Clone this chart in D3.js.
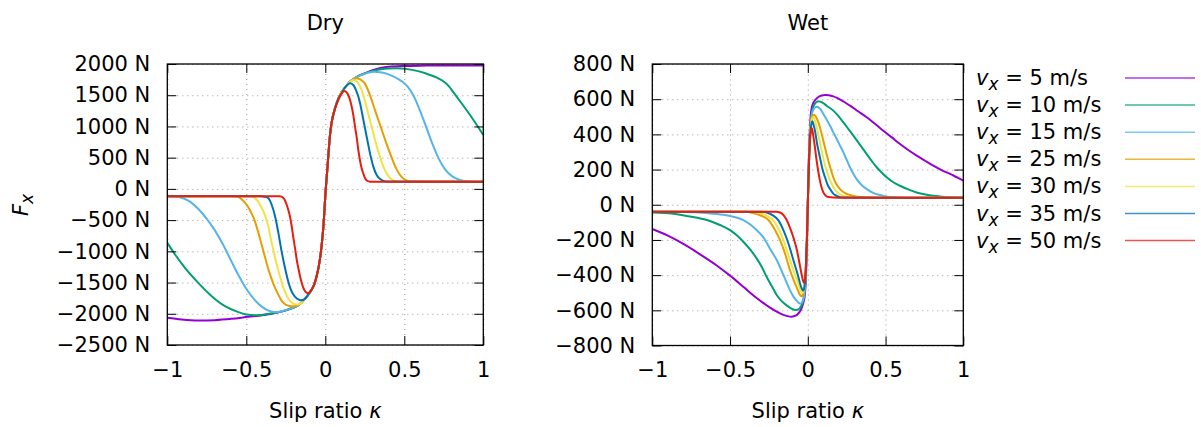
<!DOCTYPE html>
<html><head><meta charset="utf-8">
<script src="https://cdn.jsdelivr.net/npm/d3@7"></script>
<style>
html,body{margin:0;padding:0;background:#fff;}
svg{display:block;font-family:"DejaVu Sans",sans-serif;}
</style></head>
<body><svg id="chart" width="1201" height="427"></svg>
<script>
// ---------------- data ----------------
const speeds = [5, 10, 15, 25, 30, 35, 50];
const seriesColors = ["#9400d3", "#009e73", "#56b4e9", "#e69f00", "#f0e442", "#0072b2", "#e51e10"];
const xTicks = [-1, -0.5, 0, 0.5, 1];
const yTicksDry = [-2500, -2000, -1500, -1000, -500, 0, 500, 1000, 1500, 2000];
const yTicksWet = [-800, -600, -400, -200, 0, 200, 400, 600, 800];
const panelTitles = ["Dry", "Wet"];

// Dry: [slip ratio, Fx]
const dry5 = [[-1,-2065],[-0.91,-2092],[-0.804,-2108],[-0.698,-2102],[-0.593,-2081],[-0.487,-2049],[-0.4,-2025],[-0.318,-1988],[-0.25,-1945],[-0.2,-1900],[-0.175,-1870],[-0.15,-1820],[-0.125,-1750],[-0.1,-1665],[-0.086,-1612],[-0.07,-1530],[-0.055,-1398],[-0.04,-1220],[-0.025,-950],[-0.012,-600],[0.003,0],[0.01,220],[0.02,560],[0.03,870],[0.04,1060],[0.06,1280],[0.08,1430],[0.1,1535],[0.12,1610],[0.14,1670],[0.156,1715],[0.177,1755],[0.2,1795],[0.25,1850],[0.3,1900],[0.35,1935],[0.4,1955],[0.5,1968],[0.6,1973],[0.8,1976],[1,1976]];
const dry10 = [[-1,-864],[-0.951,-1051],[-0.888,-1265],[-0.804,-1505],[-0.719,-1718],[-0.635,-1878],[-0.55,-1974],[-0.5,-2010],[-0.445,-2023],[-0.4,-2018],[-0.318,-1985],[-0.25,-1945],[-0.2,-1900],[-0.175,-1870],[-0.15,-1820],[-0.125,-1750],[-0.1,-1665],[-0.086,-1612],[-0.07,-1530],[-0.055,-1398],[-0.04,-1220],[-0.025,-950],[-0.012,-600],[0.003,0],[0.01,220],[0.02,560],[0.03,870],[0.04,1060],[0.06,1280],[0.08,1430],[0.1,1535],[0.12,1610],[0.14,1670],[0.156,1715],[0.177,1755],[0.2,1795],[0.25,1850],[0.3,1890],[0.35,1915],[0.4,1928],[0.45,1930],[0.52,1918],[0.58,1890],[0.634,1851],[0.69,1800],[0.74,1735],[0.78,1650],[0.81,1550],[0.86,1380],[0.916,1183],[0.96,1020],[1,863]];
const dry15 = [[-1,-117],[-0.95,-122],[-0.9,-150],[-0.85,-215],[-0.8,-330],[-0.75,-480],[-0.7,-660],[-0.65,-880],[-0.6,-1130],[-0.55,-1380],[-0.5,-1600],[-0.45,-1770],[-0.4,-1890],[-0.36,-1950],[-0.318,-1974],[-0.28,-1962],[-0.25,-1942],[-0.2,-1898],[-0.175,-1870],[-0.15,-1820],[-0.125,-1750],[-0.1,-1665],[-0.086,-1612],[-0.07,-1530],[-0.055,-1398],[-0.04,-1220],[-0.025,-950],[-0.012,-600],[0.003,0],[0.01,220],[0.02,560],[0.03,870],[0.04,1060],[0.06,1280],[0.08,1430],[0.1,1535],[0.12,1610],[0.14,1670],[0.156,1715],[0.177,1755],[0.2,1792],[0.25,1845],[0.304,1877],[0.36,1865],[0.42,1815],[0.48,1730],[0.52,1640],[0.557,1500],[0.6,1250],[0.637,1000],[0.675,740],[0.715,500],[0.75,340],[0.78,250],[0.82,175],[0.87,130],[0.92,118],[1,116]];
const dry25 = [[-1,-117],[-0.574,-117],[-0.55,-128],[-0.532,-162],[-0.51,-215],[-0.49,-282],[-0.47,-375],[-0.448,-500],[-0.426,-680],[-0.404,-883],[-0.383,-1080],[-0.362,-1274],[-0.34,-1440],[-0.32,-1574],[-0.298,-1690],[-0.278,-1785],[-0.26,-1835],[-0.24,-1866],[-0.216,-1880],[-0.195,-1878],[-0.175,-1865],[-0.15,-1820],[-0.125,-1750],[-0.1,-1665],[-0.086,-1612],[-0.07,-1530],[-0.055,-1398],[-0.04,-1220],[-0.025,-950],[-0.012,-600],[0.003,0],[0.01,220],[0.02,560],[0.03,870],[0.04,1060],[0.06,1280],[0.08,1430],[0.1,1535],[0.12,1610],[0.14,1670],[0.156,1715],[0.177,1755],[0.198,1772],[0.22,1755],[0.25,1690],[0.283,1500],[0.316,1250],[0.35,1000],[0.385,740],[0.42,500],[0.45,320],[0.48,200],[0.51,140],[0.54,118],[1,116]];
const dry30 = [[-1,-117],[-0.478,-117],[-0.46,-126],[-0.443,-155],[-0.425,-205],[-0.408,-278],[-0.39,-370],[-0.373,-485],[-0.358,-630],[-0.345,-800],[-0.33,-965],[-0.315,-1130],[-0.3,-1280],[-0.285,-1420],[-0.27,-1545],[-0.255,-1650],[-0.24,-1730],[-0.225,-1790],[-0.21,-1825],[-0.195,-1845],[-0.175,-1852],[-0.155,-1830],[-0.14,-1790],[-0.125,-1750],[-0.1,-1665],[-0.086,-1612],[-0.07,-1530],[-0.055,-1398],[-0.04,-1220],[-0.025,-950],[-0.012,-600],[0.003,0],[0.01,220],[0.02,560],[0.03,870],[0.04,1060],[0.06,1280],[0.08,1430],[0.1,1535],[0.12,1610],[0.14,1670],[0.156,1712],[0.177,1744],[0.198,1725],[0.22,1640],[0.241,1500],[0.267,1250],[0.293,1000],[0.318,750],[0.345,520],[0.37,340],[0.395,220],[0.42,150],[0.45,120],[0.47,116],[1,116]];
const dry35 = [[-1,-117],[-0.405,-117],[-0.385,-125],[-0.36,-150],[-0.34,-250],[-0.318,-437],[-0.297,-704],[-0.278,-980],[-0.259,-1220],[-0.24,-1430],[-0.22,-1600],[-0.2,-1700],[-0.18,-1755],[-0.162,-1778],[-0.15,-1782],[-0.138,-1775],[-0.125,-1750],[-0.1,-1665],[-0.086,-1612],[-0.07,-1530],[-0.055,-1398],[-0.04,-1220],[-0.025,-950],[-0.012,-600],[0.003,0],[0.01,220],[0.02,560],[0.03,870],[0.04,1060],[0.06,1280],[0.08,1430],[0.104,1535],[0.12,1608],[0.14,1668],[0.156,1690],[0.177,1664],[0.198,1557],[0.209,1480],[0.22,1370],[0.241,1103],[0.262,836],[0.283,569],[0.304,356],[0.325,222],[0.357,142],[0.388,117],[1,116]];
const dry50 = [[-1,-117],[-0.29,-117],[-0.277,-125],[-0.266,-144],[-0.255,-185],[-0.245,-250],[-0.235,-330],[-0.224,-437],[-0.213,-590],[-0.202,-784],[-0.191,-960],[-0.181,-1131],[-0.17,-1275],[-0.16,-1398],[-0.15,-1500],[-0.139,-1585],[-0.128,-1640],[-0.118,-1664],[-0.108,-1668],[-0.097,-1650],[-0.086,-1612],[-0.07,-1530],[-0.055,-1398],[-0.04,-1220],[-0.025,-950],[-0.012,-600],[0.003,0],[0.01,220],[0.02,560],[0.03,870],[0.04,1060],[0.06,1270],[0.082,1423],[0.104,1530],[0.115,1560],[0.123,1568],[0.135,1545],[0.146,1500],[0.157,1420],[0.167,1317],[0.178,1170],[0.188,1000],[0.2,800],[0.209,623],[0.22,450],[0.23,329],[0.24,250],[0.251,175],[0.265,130],[0.283,116],[1,116]];

// Wet: [slip ratio, Fx]
const wet5 = [[-1,-138],[-0.9,-176],[-0.8,-223],[-0.693,-282],[-0.586,-345],[-0.5,-403],[-0.415,-466],[-0.329,-530],[-0.243,-585],[-0.2,-608],[-0.157,-626],[-0.13,-633],[-0.104,-636],[-0.088,-633],[-0.072,-627],[-0.055,-612],[-0.04,-589],[-0.028,-555],[-0.018,-504],[-0.012,-420],[-0.006,-240],[0,0],[0.006,240],[0.012,400],[0.018,500],[0.025,550],[0.035,578],[0.046,594],[0.07,614],[0.09,621],[0.111,624],[0.135,622],[0.164,616],[0.22,592],[0.271,563],[0.325,530],[0.379,497],[0.432,460],[0.486,421],[0.54,383],[0.593,345],[0.646,311],[0.7,279],[0.754,250],[0.807,222],[0.86,197],[0.915,175],[0.96,155],[1,137]];
const wet10 = [[-1,-44],[-0.865,-51],[-0.758,-67],[-0.69,-78],[-0.629,-92],[-0.565,-115],[-0.5,-144],[-0.455,-175],[-0.415,-210],[-0.37,-255],[-0.329,-305],[-0.295,-355],[-0.265,-409],[-0.232,-462],[-0.2,-513],[-0.168,-548],[-0.136,-572],[-0.105,-590],[-0.076,-598],[-0.06,-595],[-0.045,-580],[-0.032,-550],[-0.02,-490],[-0.012,-390],[-0.006,-220],[0,0],[0.006,220],[0.012,380],[0.02,480],[0.03,540],[0.045,575],[0.068,588],[0.095,580],[0.121,563],[0.164,535],[0.196,505],[0.229,468],[0.26,432],[0.293,393],[0.336,340],[0.379,288],[0.41,250],[0.443,213],[0.475,183],[0.507,156],[0.55,128],[0.593,108],[0.65,86],[0.7,70],[0.75,60],[0.807,51],[0.86,46],[0.915,42],[1,40]];
const wet15 = [[-1,-40],[-0.8,-41],[-0.651,-47],[-0.543,-57],[-0.48,-68],[-0.415,-87],[-0.37,-112],[-0.329,-144],[-0.3,-170],[-0.275,-200],[-0.24,-255],[-0.2,-314],[-0.157,-399],[-0.115,-485],[-0.09,-525],[-0.072,-545],[-0.055,-560],[-0.045,-562],[-0.035,-552],[-0.025,-525],[-0.015,-430],[-0.007,-250],[0,0],[0.007,250],[0.014,400],[0.022,490],[0.035,540],[0.057,557],[0.08,545],[0.1,516],[0.12,486],[0.143,449],[0.165,410],[0.186,374],[0.207,336],[0.229,298],[0.25,255],[0.271,213],[0.292,178],[0.314,146],[0.345,113],[0.379,89],[0.42,68],[0.464,55],[0.5,47],[0.55,42],[0.65,40],[1,40]];
const wet25 = [[-1,-40],[-0.4,-40],[-0.36,-45],[-0.32,-55],[-0.285,-68],[-0.253,-87],[-0.211,-144],[-0.179,-200],[-0.147,-276],[-0.115,-371],[-0.082,-447],[-0.062,-490],[-0.05,-512],[-0.04,-520],[-0.03,-505],[-0.02,-455],[-0.013,-370],[-0.006,-200],[0,0],[0.006,200],[0.012,360],[0.02,460],[0.03,505],[0.04,512],[0.052,500],[0.068,468],[0.084,420],[0.1,364],[0.116,305],[0.132,250],[0.148,200],[0.164,156],[0.185,115],[0.207,89],[0.24,66],[0.271,55],[0.31,47],[0.357,42],[0.45,40],[1,40]];
const wet30 = [[-1,-40],[-0.36,-40],[-0.32,-45],[-0.28,-56],[-0.25,-70],[-0.222,-87],[-0.19,-134],[-0.157,-200],[-0.125,-286],[-0.093,-371],[-0.061,-447],[-0.045,-490],[-0.035,-502],[-0.025,-485],[-0.018,-440],[-0.012,-350],[-0.006,-200],[0,0],[0.006,200],[0.012,350],[0.02,450],[0.028,490],[0.036,497],[0.045,480],[0.057,440],[0.073,375],[0.089,307],[0.105,245],[0.121,194],[0.138,150],[0.154,118],[0.175,85],[0.196,65],[0.22,53],[0.25,46],[0.3,41],[0.35,40],[1,40]];
const wet35 = [[-1,-40],[-0.3,-40],[-0.26,-45],[-0.225,-60],[-0.19,-87],[-0.157,-144],[-0.125,-219],[-0.093,-314],[-0.061,-409],[-0.045,-462],[-0.035,-483],[-0.029,-488],[-0.022,-470],[-0.015,-410],[-0.008,-260],[0,0],[0.006,200],[0.012,350],[0.02,440],[0.029,474],[0.037,455],[0.046,421],[0.06,345],[0.078,269],[0.095,200],[0.111,156],[0.127,115],[0.143,89],[0.165,62],[0.186,51],[0.23,41],[1,40]];
const wet50 = [[-1,-40],[-0.2,-40],[-0.18,-44],[-0.16,-55],[-0.14,-80],[-0.115,-130],[-0.093,-185],[-0.072,-250],[-0.054,-330],[-0.04,-395],[-0.032,-428],[-0.025,-443],[-0.019,-430],[-0.012,-340],[-0.006,-200],[0,0],[0.006,200],[0.012,340],[0.018,410],[0.025,436],[0.032,410],[0.04,364],[0.057,250],[0.078,137],[0.1,70],[0.115,52],[0.132,44],[0.2,40],[1,40]];

const drySeries = [dry5, dry10, dry15, dry25, dry30, dry35, dry50];
const wetSeries = [wet5, wet10, wet15, wet25, wet30, wet35, wet50];

// ---------------- drawing ----------------
const svg = d3.select("#chart");
const FS = 21;
const fmt = d3.format("");

function panel(cfg) {
  const x = d3.scaleLinear().domain([-1, 1]).range([cfg.x0, cfg.x1]);
  const y = d3.scaleLinear().domain(cfg.yDomain).range([cfg.y1, cfg.y0]);
  const g = svg.append("g");
  const w = cfg.x1 - cfg.x0, h = cfg.y1 - cfg.y0;

  const gx = g.append("g").attr("transform", `translate(0,${cfg.y1})`)
    .call(d3.axisBottom(x).tickValues(xTicks).tickSize(-h).tickFormat(""));
  const gy = g.append("g").attr("transform", `translate(${cfg.x0},0)`)
    .call(d3.axisLeft(y).tickValues(cfg.yTicks).tickSize(-w).tickFormat(""));
  [gx, gy].forEach(a => {
    a.select(".domain").remove();
    a.selectAll("line").attr("stroke", "#9a9a9a").attr("stroke-width", 1).attr("stroke-dasharray", "1,4");
  });

  const clipId = "clip" + cfg.id;
  svg.append("clipPath").attr("id", clipId).append("rect")
    .attr("x", cfg.x0).attr("y", cfg.y0).attr("width", w).attr("height", h);
  const line = d3.line().x(d => x(d[0])).y(d => y(d[1])).curve(d3.curveMonotoneX);
  g.append("g").attr("clip-path", `url(#${clipId})`)
    .selectAll("path").data(cfg.series).join("path")
    .attr("d", line).attr("fill", "none")
    .attr("stroke", (d, i) => seriesColors[i]).attr("stroke-width", 2)
    .attr("stroke-linejoin", "round");

  const TK = 9;
  const styleAxis = a => {
    a.select(".domain").remove();
    a.selectAll("line").attr("stroke", "#000").attr("stroke-width", 1);
    a.selectAll("text").attr("font-size", FS).attr("fill", "#000").attr("font-family", "DejaVu Sans");
  };
  g.append("g").attr("transform", `translate(${cfg.x0},0)`)
    .call(d3.axisLeft(y).tickValues(cfg.yTicks).tickSize(-TK).tickPadding(17).tickFormat(d => fmt(d) + " N")).call(styleAxis);
  g.append("g").attr("transform", `translate(${cfg.x1},0)`)
    .call(d3.axisRight(y).tickValues(cfg.yTicks).tickSize(-TK).tickFormat("")).call(styleAxis);
  g.append("g").attr("transform", `translate(0,${cfg.y1})`)
    .call(d3.axisBottom(x).tickValues(xTicks).tickSize(-TK).tickPadding(17).tickFormat(fmt)).call(styleAxis);
  g.append("g").attr("transform", `translate(0,${cfg.y0})`)
    .call(d3.axisTop(x).tickValues(xTicks).tickSize(-TK).tickFormat("")).call(styleAxis);

  g.append("rect").attr("x", cfg.x0).attr("y", cfg.y0).attr("width", w).attr("height", h)
    .attr("fill", "none").attr("stroke", "#000").attr("stroke-width", 1.3);

  g.append("text").attr("x", (cfg.x0 + cfg.x1) / 2).attr("y", 30).attr("text-anchor", "middle")
    .attr("font-size", FS).text(cfg.title);
  const xl = g.append("text").attr("x", (cfg.x0 + cfg.x1) / 2).attr("y", 418).attr("text-anchor", "middle")
    .attr("font-size", FS);
  xl.append("tspan").text("Slip ratio ");
  xl.append("tspan").attr("font-style", "italic").text("κ");
}

panel({id: "dry", x0: 167.3, x1: 483.3, y0: 64, y1: 345, yDomain: [-2500, 2000], yTicks: yTicksDry, series: drySeries, title: panelTitles[0]});
panel({id: "wet", x0: 652.3, x1: 963.3, y0: 64, y1: 345.5, yDomain: [-800, 800], yTicks: yTicksWet, series: wetSeries, title: panelTitles[1]});

const yl = svg.append("text").attr("transform", "translate(28,205) rotate(-90)")
  .attr("text-anchor", "middle").attr("font-size", FS);
yl.append("tspan").attr("font-style", "italic").text("F");
yl.append("tspan").attr("font-style", "italic").attr("dy", 5).attr("font-size", 17).text("x");

const legend = svg.append("g");
speeds.forEach((s, i) => {
  const yy = 78 + i * 27.1;
  const t = legend.append("text").attr("x", 976).attr("y", yy + 7).attr("font-size", FS);
  t.append("tspan").attr("font-style", "italic").text("v");
  t.append("tspan").attr("font-style", "italic").attr("dy", 5).attr("font-size", 17).text("x");
  t.append("tspan").attr("dy", -5).text(" = " + s + " m/s");
  legend.append("line").attr("x1", 1125).attr("x2", 1195).attr("y1", yy).attr("y2", yy)
    .attr("stroke", seriesColors[i]).attr("stroke-width", 1.5).attr("stroke-opacity", 0.75);
});
</script>
</body></html>
